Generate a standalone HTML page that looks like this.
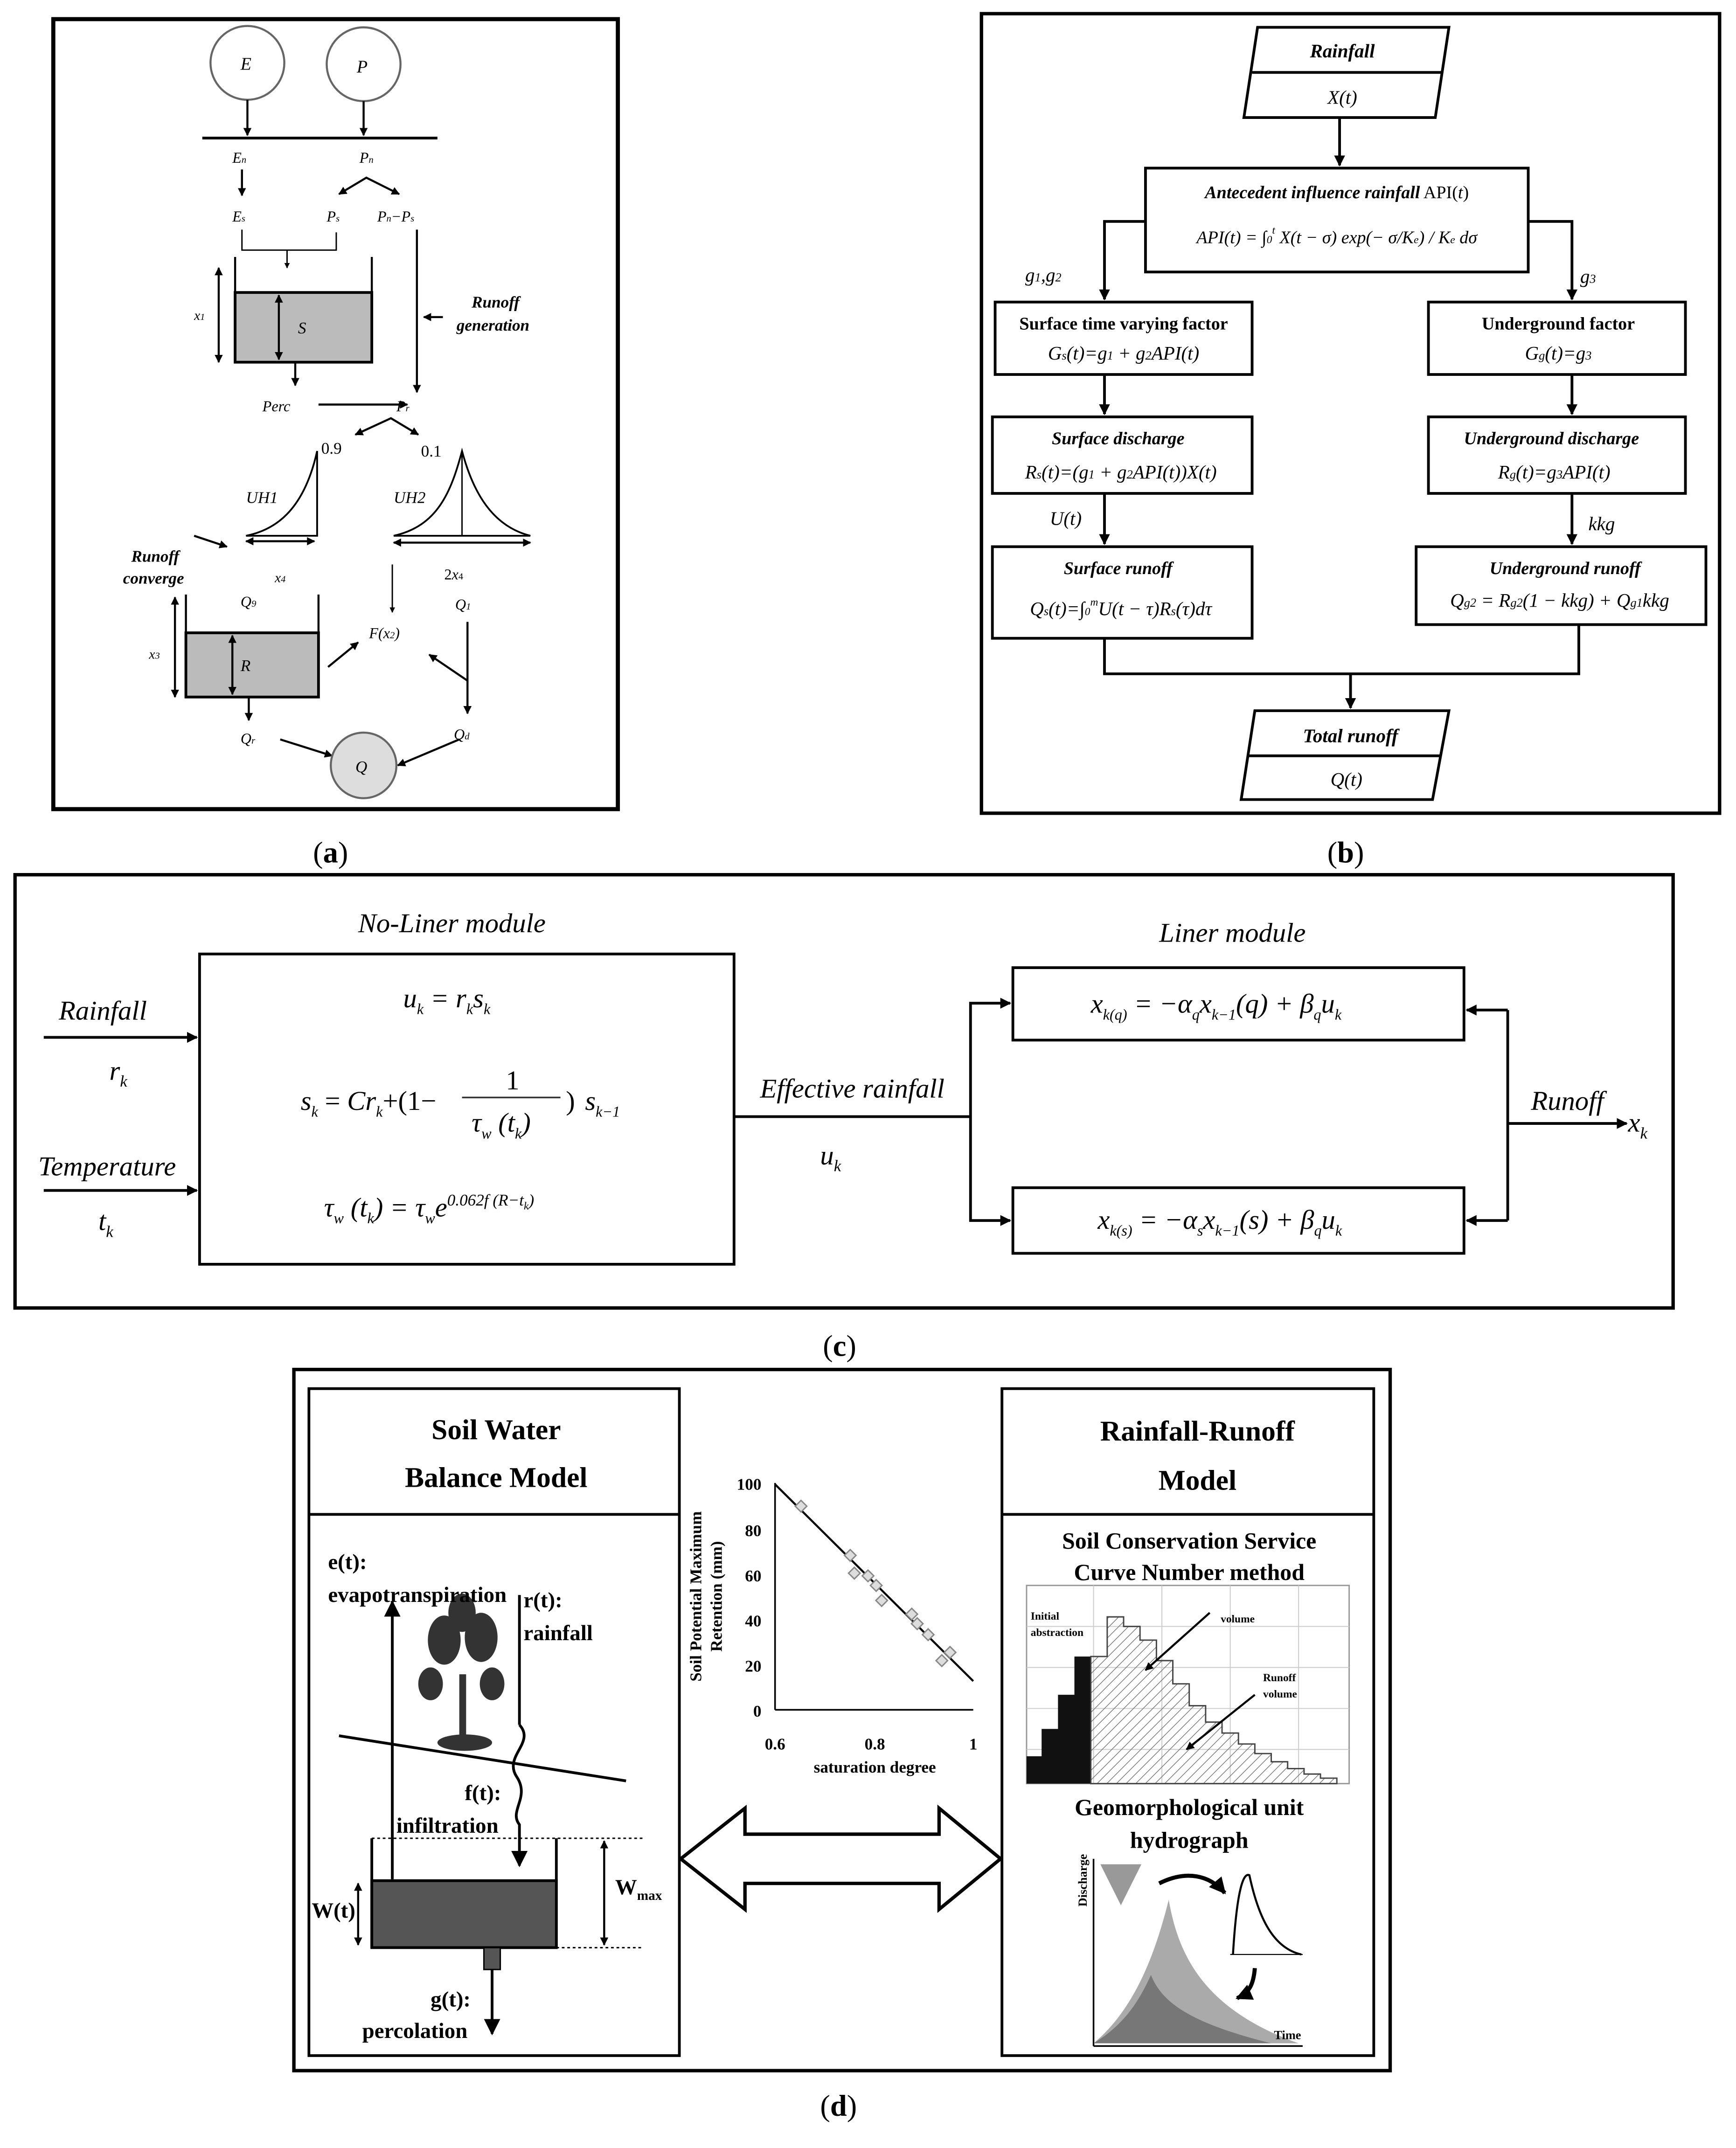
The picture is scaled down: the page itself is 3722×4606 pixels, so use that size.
<!DOCTYPE html>
<html><head><meta charset="utf-8"><style>
html,body{margin:0;padding:0;background:#fff}
svg{display:block}
text{font-family:"Liberation Serif",serif;fill:#000}
</style></head><body>
<svg width="3722" height="4606" viewBox="0 0 1270 1571.6" preserveAspectRatio="none" xmlns="http://www.w3.org/2000/svg">
<defs>
<marker id="ar" viewBox="0 0 10 10" refX="9" refY="5" markerWidth="6" markerHeight="6" orient="auto-start-reverse"><path d="M0,0 L10,5 L0,10 z" fill="#000"/></marker>
<marker id="ar2" viewBox="0 0 10 10" refX="9" refY="5" markerWidth="4" markerHeight="4" orient="auto-start-reverse"><path d="M0,0 L10,5 L0,10 z" fill="#000"/></marker>
<pattern id="hatch" width="5" height="5" patternUnits="userSpaceOnUse" patternTransform="rotate(45)"><line x1="0" y1="0" x2="0" y2="5" stroke="#777" stroke-width="1"/></pattern>
</defs>
<rect width="1270" height="1571.6" fill="#fff"/>

<!-- ===== (a) ===== -->
<rect x="39" y="14" width="413" height="578" fill="none" stroke="#000" stroke-width="3"/>
<g stroke="#000" stroke-width="1.5" fill="none">
<circle cx="181" cy="46" r="27" stroke="#666"/>
<circle cx="266" cy="47" r="27" stroke="#666"/>
<line x1="181" y1="73" x2="181" y2="99" marker-end="url(#ar2)"/>
<line x1="266" y1="74" x2="266" y2="99" marker-end="url(#ar2)"/>
<line x1="148" y1="101" x2="320" y2="101" stroke-width="2"/>
<line x1="177" y1="124" x2="177" y2="143" marker-end="url(#ar2)"/>
<polyline points="248,142 268,130 292,142" marker-start="url(#ar2)" marker-end="url(#ar2)"/>
<polyline points="177,168 177,183 246,183 246,170" stroke-width="1"/>
<line x1="210" y1="183" x2="210" y2="196" stroke-width="1" marker-end="url(#ar2)"/>
<line x1="305" y1="168" x2="305" y2="287" marker-end="url(#ar2)"/>
<line x1="324" y1="232" x2="310" y2="232" marker-end="url(#ar2)"/>
<line x1="172" y1="188" x2="172" y2="265"/>
<line x1="272" y1="188" x2="272" y2="265"/>
<line x1="160" y1="196" x2="160" y2="265" marker-start="url(#ar2)" marker-end="url(#ar2)"/>
<line x1="216" y1="265" x2="216" y2="282" marker-end="url(#ar2)"/>
<line x1="233" y1="296" x2="298" y2="296" marker-end="url(#ar2)"/>
<polyline points="260,318 286,306 306,318" marker-start="url(#ar2)" marker-end="url(#ar2)"/>
<line x1="180" y1="396" x2="230" y2="396" marker-start="url(#ar2)" marker-end="url(#ar2)"/>
<line x1="288" y1="397" x2="388" y2="397" marker-start="url(#ar2)" marker-end="url(#ar2)"/>
<line x1="142" y1="392" x2="166" y2="400" marker-end="url(#ar2)"/>
<line x1="287" y1="413" x2="287" y2="448" stroke-width="1" marker-end="url(#ar2)"/>
<line x1="136" y1="435" x2="136" y2="510"/>
<line x1="233" y1="435" x2="233" y2="510"/>
<line x1="128" y1="437" x2="128" y2="510" marker-start="url(#ar2)" marker-end="url(#ar2)"/>
<line x1="182" y1="510" x2="182" y2="527" marker-end="url(#ar2)"/>
<line x1="240" y1="488" x2="262" y2="470" marker-end="url(#ar2)"/>
<line x1="342" y1="455" x2="342" y2="522" marker-end="url(#ar2)"/>
<line x1="342" y1="498" x2="314" y2="479" marker-end="url(#ar2)"/>
<line x1="205" y1="541" x2="243" y2="553" marker-end="url(#ar2)"/>
<line x1="336" y1="541" x2="291" y2="560" marker-end="url(#ar2)"/>
</g>
<rect x="172" y="214" width="100" height="51" fill="#bbb" stroke="#000" stroke-width="2"/>
<line x1="204" y1="216" x2="204" y2="263" stroke="#000" stroke-width="1.5" marker-start="url(#ar2)" marker-end="url(#ar2)"/>
<rect x="136" y="463" width="97" height="47" fill="#bbb" stroke="#000" stroke-width="2"/>
<line x1="170" y1="465" x2="170" y2="508" stroke="#000" stroke-width="1.5" marker-start="url(#ar2)" marker-end="url(#ar2)"/>
<path d="M180,392 C200,388 222,375 232,330 L232,392 Z" fill="none" stroke="#000" stroke-width="1.3"/>
<line x1="180" y1="392" x2="232" y2="392" stroke="#000"/>
<path d="M288,392 C320,385 330,360 338,330 C346,360 360,385 388,392 Z" fill="none" stroke="#000" stroke-width="1.3"/>
<line x1="338" y1="330" x2="338" y2="392" stroke="#000"/>
<circle cx="266" cy="560" r="24" fill="#ddd" stroke="#666" stroke-width="1.5"/>
<g font-style="italic" font-size="13">
<text x="176" y="51">E</text><text x="261" y="53">P</text>
<text x="170" y="119" font-size="11">E<tspan font-size="7">n</tspan></text>
<text x="263" y="119" font-size="11">P<tspan font-size="7">n</tspan></text>
<text x="170" y="162" font-size="11">E<tspan font-size="7">s</tspan></text>
<text x="239" y="162" font-size="11">P<tspan font-size="7">s</tspan></text>
<text x="276" y="162" font-size="11">P<tspan font-size="7">n</tspan>−P<tspan font-size="7">s</tspan></text>
<text x="218" y="244" font-size="12">S</text>
<text x="142" y="234" font-size="10">x<tspan font-size="7">1</tspan></text>
<text x="192" y="301" font-size="11">Perc</text>
<text x="290" y="301" font-size="11">P<tspan font-size="7">r</tspan></text>
<text x="180" y="368" font-size="12">UH1</text>
<text x="288" y="368" font-size="12">UH2</text>
<text x="201" y="426" font-size="10">x<tspan font-size="7">4</tspan></text>
<text x="325" y="424" font-size="11" font-style="normal">2<tspan font-style="italic">x</tspan><tspan font-size="7">4</tspan></text>
<text x="176" y="444" font-size="11">Q<tspan font-size="7">9</tspan></text>
<text x="333" y="446" font-size="11">Q<tspan font-size="7">1</tspan></text>
<text x="270" y="467" font-size="11">F(x<tspan font-size="7">2</tspan>)</text>
<text x="109" y="482" font-size="10">x<tspan font-size="7">3</tspan></text>
<text x="176" y="491" font-size="12">R</text>
<text x="176" y="544" font-size="11">Q<tspan font-size="7">r</tspan></text>
<text x="332" y="541" font-size="11">Q<tspan font-size="7">d</tspan></text>
<text x="260" y="565" font-size="12">Q</text>
</g>
<text x="235" y="332" font-size="12">0.9</text>
<text x="308" y="334" font-size="12">0.1</text>
<g font-style="italic" font-weight="bold" font-size="12">
<text x="345" y="225">Runoff</text><text x="334" y="242">generation</text>
<text x="96" y="411">Runoff</text><text x="90" y="427">converge</text>
</g>
<text x="229" y="631" font-size="22">(<tspan font-weight="bold">a</tspan>)</text>

<!-- ===== (b) ===== -->
<rect x="718" y="10" width="540" height="585" fill="none" stroke="#000" stroke-width="2.5"/>
<g stroke="#000" stroke-width="2" fill="none">
<polygon points="920,20 1060,20 1050,86 910,86"/>
<line x1="916" y1="53" x2="1055" y2="53"/>
<polygon points="918,520 1060,520 1048,585 908,585"/>
<line x1="913" y1="553" x2="1054" y2="553"/>
<rect x="838" y="123" width="280" height="76"/>
<rect x="728" y="221" width="188" height="53"/>
<rect x="1045" y="221" width="188" height="53"/>
<rect x="726" y="305" width="190" height="56"/>
<rect x="1045" y="305" width="188" height="56"/>
<rect x="726" y="400" width="190" height="67"/>
<rect x="1036" y="400" width="212" height="57"/>
<line x1="980" y1="86" x2="980" y2="121" marker-end="url(#ar2)"/>
<polyline points="838,162 808,162 808,219" marker-end="url(#ar2)"/>
<polyline points="1118,162 1150,162 1150,219" marker-end="url(#ar2)"/>
<line x1="808" y1="274" x2="808" y2="303" marker-end="url(#ar2)"/>
<line x1="1150" y1="274" x2="1150" y2="303" marker-end="url(#ar2)"/>
<line x1="808" y1="361" x2="808" y2="398" marker-end="url(#ar2)"/>
<line x1="1150" y1="361" x2="1150" y2="398" marker-end="url(#ar2)"/>
<polyline points="808,467 808,493 1155,493 1155,457"/>
<line x1="988" y1="493" x2="988" y2="518" marker-end="url(#ar2)"/>
</g>
<g font-size="14" text-anchor="middle">
<text x="982" y="42" font-style="italic" font-weight="bold">Rainfall</text>
<text x="982" y="76" font-style="italic">X(t)</text>
<text x="978" y="145" font-size="13"><tspan font-style="italic" font-weight="bold">Antecedent influence rainfall</tspan> API(<tspan font-style="italic">t</tspan>)</text>
<text x="978" y="178" font-style="italic" font-size="13">API(t) = ∫<tspan font-size="8">0</tspan><tspan font-size="8" dy="-7">t</tspan><tspan dy="7"> X(t − σ) exp(− σ/K</tspan><tspan font-size="8">e</tspan>) / K<tspan font-size="8">e</tspan> dσ</text>
<text x="822" y="241" font-weight="bold" font-size="13">Surface time varying factor</text>
<text x="822" y="263" font-style="italic">G<tspan font-size="9">s</tspan>(t)=g<tspan font-size="9">1</tspan> + g<tspan font-size="9">2</tspan>API(t)</text>
<text x="1140" y="241" font-weight="bold" font-size="13">Underground factor</text>
<text x="1140" y="263" font-style="italic">G<tspan font-size="9">g</tspan>(t)=g<tspan font-size="9">3</tspan></text>
<text x="818" y="325" font-style="italic" font-weight="bold" font-size="13">Surface discharge</text>
<text x="820" y="350" font-style="italic">R<tspan font-size="9">s</tspan>(t)=(g<tspan font-size="9">1</tspan> + g<tspan font-size="9">2</tspan>API(t))X(t)</text>
<text x="1135" y="325" font-style="italic" font-weight="bold" font-size="13">Underground discharge</text>
<text x="1137" y="350" font-style="italic">R<tspan font-size="9">g</tspan>(t)=g<tspan font-size="9">3</tspan>API(t)</text>
<text x="818" y="420" font-style="italic" font-weight="bold" font-size="13">Surface runoff</text>
<text x="820" y="450" font-style="italic">Q<tspan font-size="9">s</tspan>(t)=∫<tspan font-size="8">0</tspan><tspan font-size="8" dy="-7">m</tspan><tspan dy="7">U(t − τ)R</tspan><tspan font-size="9">s</tspan>(τ)dτ</text>
<text x="1145" y="420" font-style="italic" font-weight="bold" font-size="13">Underground runoff</text>
<text x="1141" y="444" font-style="italic">Q<tspan font-size="9">g2</tspan> = R<tspan font-size="9">g2</tspan>(1 − kkg) + Q<tspan font-size="9">g1</tspan>kkg</text>
<text x="988" y="543" font-style="italic" font-weight="bold">Total runoff</text>
<text x="985" y="575" font-style="italic">Q(t)</text>
</g>
<g font-style="italic" font-size="14">
<text x="750" y="206">g<tspan font-size="9">1</tspan>,g<tspan font-size="9">2</tspan></text>
<text x="1156" y="207">g<tspan font-size="9">3</tspan></text>
<text x="768" y="384">U(t)</text>
<text x="1162" y="388">kkg</text>
</g>
<text x="971" y="631" font-size="22">(<tspan font-weight="bold">b</tspan>)</text>

<!-- ===== (c) ===== -->
<rect x="11" y="640" width="1213" height="317" fill="none" stroke="#000" stroke-width="2.5"/>
<g stroke="#000" stroke-width="2" fill="none">
<rect x="146" y="698" width="391" height="227"/>
<rect x="741" y="708" width="330" height="53"/>
<rect x="741" y="869" width="330" height="48"/>
<line x1="32" y1="759" x2="144" y2="759" marker-end="url(#ar2)"/>
<line x1="32" y1="871" x2="144" y2="871" marker-end="url(#ar2)"/>
<line x1="537" y1="817" x2="710" y2="817"/>
<polyline points="710,817 710,734 739,734" marker-end="url(#ar2)"/>
<polyline points="710,817 710,893 739,893" marker-end="url(#ar2)"/>
<line x1="1103" y1="822" x2="1190" y2="822" marker-end="url(#ar2)"/>
<polyline points="1103,739 1103,893"/>
<line x1="1103" y1="739" x2="1073" y2="739" marker-end="url(#ar2)"/>
<line x1="1103" y1="893" x2="1073" y2="893" marker-end="url(#ar2)"/>
</g>
<g font-style="italic" font-size="20" fill="#333">
<text x="262" y="682">No-Liner module</text>
<text x="848" y="689">Liner module</text>
<text x="43" y="746">Rainfall</text>
<text x="80" y="790">r<tspan font-size="12" dy="5">k</tspan></text>
<text x="28" y="860">Temperature</text>
<text x="72" y="900">t<tspan font-size="12" dy="5">k</tspan></text>
<text x="556" y="803">Effective rainfall</text>
<text x="600" y="852">u<tspan font-size="12" dy="5">k</tspan></text>
<text x="1120" y="812">Runoff</text>
<text x="1191" y="828">x<tspan font-size="12" dy="5">k</tspan></text>
<text x="295" y="737">u<tspan font-size="11" dy="5">k</tspan><tspan dy="-5"> = r</tspan><tspan font-size="11" dy="5">k</tspan><tspan dy="-5">s</tspan><tspan font-size="11" dy="5">k</tspan></text>
<text x="220" y="812">s<tspan font-size="11" dy="5">k</tspan><tspan dy="-5" font-style="normal"> = </tspan>Cr<tspan font-size="11" dy="5">k</tspan><tspan dy="-5" font-style="normal">+(1− </tspan></text>
<text x="370" y="797" font-style="normal">1</text>
<line x1="338" y1="803" x2="410" y2="803" stroke="#333" stroke-width="1.2"/>
<text x="345" y="828">τ<tspan font-size="11" dy="5">w</tspan><tspan dy="-5"> (t</tspan><tspan font-size="11" dy="5">k</tspan><tspan dy="-5">)</tspan></text>
<text x="414" y="812" font-style="normal">)</text>
<text x="428" y="812">s<tspan font-size="11" dy="5">k−1</tspan></text>
<text x="237" y="890">τ<tspan font-size="11" dy="5">w</tspan><tspan dy="-5"> (t</tspan><tspan font-size="11" dy="5">k</tspan><tspan dy="-5">) = τ</tspan><tspan font-size="11" dy="5">w</tspan><tspan dy="-5">e</tspan><tspan font-size="12" dy="-8">0.062f (R−t</tspan><tspan font-size="8" dy="3">k</tspan><tspan font-size="12" dy="-3">)</tspan></text>
<text x="798" y="741">x<tspan font-size="11" dy="5">k(q)</tspan><tspan dy="-5"> = −α</tspan><tspan font-size="11" dy="5">q</tspan><tspan dy="-5">x</tspan><tspan font-size="11" dy="5">k−1</tspan><tspan dy="-5">(q) + β</tspan><tspan font-size="11" dy="5">q</tspan><tspan dy="-5">u</tspan><tspan font-size="11" dy="5">k</tspan></text>
<text x="803" y="899">x<tspan font-size="11" dy="5">k(s)</tspan><tspan dy="-5"> = −α</tspan><tspan font-size="11" dy="5">s</tspan><tspan dy="-5">x</tspan><tspan font-size="11" dy="5">k−1</tspan><tspan dy="-5">(s) + β</tspan><tspan font-size="11" dy="5">q</tspan><tspan dy="-5">u</tspan><tspan font-size="11" dy="5">k</tspan></text>
</g>
<text x="602" y="992" font-size="22">(<tspan font-weight="bold">c</tspan>)</text>

<!-- ===== (d) ===== -->
<rect x="215" y="1002" width="802" height="513" fill="none" stroke="#000" stroke-width="2.5"/>
<g stroke="#000" stroke-width="2" fill="none">
<rect x="226" y="1016" width="271" height="488"/>
<line x1="226" y1="1108" x2="497" y2="1108"/>
<rect x="733" y="1016" width="272" height="488"/>
<line x1="733" y1="1108" x2="1005" y2="1108"/>
</g>
<g font-weight="bold" font-size="21" text-anchor="middle">
<text x="363" y="1053">Soil Water</text><text x="363" y="1088">Balance Model</text>
<text x="876" y="1054">Rainfall-Runoff</text><text x="876" y="1090">Model</text>
</g>
<!-- soil water schematic -->
<g stroke="#000" stroke-width="2" fill="none">
<line x1="287" y1="1375" x2="287" y2="1172" marker-end="url(#ar)"/>
<line x1="380" y1="1167" x2="380" y2="1262"/>
<path d="M380,1262 C392,1275 368,1285 378,1300 C388,1315 372,1325 380,1335 L380,1365" marker-end="url(#ar)"/>
<line x1="248" y1="1270" x2="458" y2="1303"/>
<line x1="272" y1="1345" x2="272" y2="1425"/>
<line x1="407" y1="1345" x2="407" y2="1425"/>
<line x1="272" y1="1345" x2="470" y2="1345" stroke-dasharray="2,2" stroke-width="1"/>
<line x1="407" y1="1425" x2="470" y2="1425" stroke-dasharray="2,2" stroke-width="1"/>
<line x1="442" y1="1347" x2="442" y2="1423" stroke-width="1.5" marker-start="url(#ar2)" marker-end="url(#ar2)"/>
<line x1="262" y1="1378" x2="262" y2="1423" stroke-width="1.5" marker-start="url(#ar2)" marker-end="url(#ar2)"/>
<line x1="360" y1="1440" x2="360" y2="1488" marker-end="url(#ar)"/>
</g>
<rect x="272" y="1376" width="135" height="49" fill="#555" stroke="#000" stroke-width="2"/>
<rect x="354" y="1425" width="12" height="16" fill="#555" stroke="#000"/>
<g fill="#333">
<rect x="336" y="1225" width="5" height="55"/>
<ellipse cx="325" cy="1200" rx="12" ry="18"/><ellipse cx="352" cy="1198" rx="12" ry="18"/>
<ellipse cx="338" cy="1180" rx="10" ry="14"/><ellipse cx="315" cy="1232" rx="9" ry="12"/>
<ellipse cx="360" cy="1232" rx="9" ry="12"/><ellipse cx="340" cy="1275" rx="20" ry="6"/>
</g>
<g font-weight="bold" font-size="16">
<text x="240" y="1148">e(t):</text><text x="240" y="1172">evapotranspiration</text>
<text x="383" y="1176">r(t):</text><text x="383" y="1200">rainfall</text>
<text x="340" y="1317">f(t):</text><text x="290" y="1341">infiltration</text>
<text x="228" y="1403">W(t)</text>
<text x="450" y="1386">W<tspan font-size="10" dy="4">max</tspan></text>
<text x="315" y="1468">g(t):</text><text x="265" y="1491">percolation</text>
</g>
<!-- double arrow -->
<polygon points="498,1360 545,1323 545,1342 687,1342 687,1323 732,1360 687,1397 687,1378 545,1378 545,1397" fill="#fff" stroke="#000" stroke-width="2.5"/>
<!-- scatter plot -->
<g stroke="#000" stroke-width="1.2" fill="none">
<line x1="567" y1="1085" x2="567" y2="1251"/>
<line x1="567" y1="1251" x2="712" y2="1251"/>
<line x1="567" y1="1086" x2="712" y2="1230" stroke-width="1.5"/>
</g>
<g font-weight="bold" font-size="12" text-anchor="end">
<text x="557" y="1090">100</text><text x="557" y="1124">80</text><text x="557" y="1157">60</text>
<text x="557" y="1190">40</text><text x="557" y="1223">20</text><text x="557" y="1256">0</text>
</g>
<g font-weight="bold" font-size="12" text-anchor="middle">
<text x="567" y="1280">0.6</text><text x="640" y="1280">0.8</text><text x="712" y="1280">1</text>
<text x="640" y="1297">saturation degree</text>
</g>
<text transform="translate(513,1168) rotate(-90)" font-weight="bold" font-size="12" text-anchor="middle">Soil Potential Maximum</text>
<text transform="translate(528,1168) rotate(-90)" font-weight="bold" font-size="12" text-anchor="middle">Retention (mm)</text>
<g fill="#ddd" stroke="#888">
<rect x="583" y="1099" width="6" height="6" transform="rotate(45 586 1102)"/>
<rect x="619" y="1135" width="6" height="6" transform="rotate(45 622 1138)"/>
<rect x="622" y="1148" width="6" height="6" transform="rotate(45 625 1151)"/>
<rect x="632" y="1150" width="6" height="6" transform="rotate(45 635 1153)"/>
<rect x="638" y="1157" width="6" height="6" transform="rotate(45 641 1160)"/>
<rect x="642" y="1168" width="6" height="6" transform="rotate(45 645 1171)"/>
<rect x="664" y="1178" width="6" height="6" transform="rotate(45 667 1181)"/>
<rect x="668" y="1185" width="6" height="6" transform="rotate(45 671 1188)"/>
<rect x="676" y="1193" width="6" height="6" transform="rotate(45 679 1196)"/>
<rect x="686" y="1212" width="6" height="6" transform="rotate(45 689 1215)"/>
<rect x="692" y="1206" width="6" height="6" transform="rotate(45 695 1209)"/>
</g>
<!-- right panel -->
<g font-weight="bold" font-size="17" text-anchor="middle">
<text x="870" y="1133">Soil Conservation Service</text>
<text x="870" y="1156">Curve Number method</text>
<text x="870" y="1328">Geomorphological unit</text>
<text x="870" y="1352">hydrograph</text>
</g>
<rect x="751" y="1160" width="236" height="145" fill="#fff" stroke="#999"/>
<g stroke="#ccc" stroke-width="0.7">
<line x1="751" y1="1190" x2="987" y2="1190"/><line x1="751" y1="1220" x2="987" y2="1220"/><line x1="751" y1="1250" x2="987" y2="1250"/><line x1="751" y1="1280" x2="987" y2="1280"/>
<line x1="800" y1="1160" x2="800" y2="1305"/><line x1="850" y1="1160" x2="850" y2="1305"/><line x1="900" y1="1160" x2="900" y2="1305"/><line x1="950" y1="1160" x2="950" y2="1305"/>
</g>
<path d="M751,1305 L751,1285 L762,1285 L762,1265 L774,1265 L774,1240 L786,1240 L786,1212 L798,1212 L798,1305 Z" fill="#111"/>
<path d="M798,1305 L798,1212 L810,1212 L810,1183 L822,1183 L822,1190 L834,1190 L834,1200 L846,1200 L846,1215 L858,1215 L858,1232 L870,1232 L870,1248 L882,1248 L882,1260 L894,1260 L894,1268 L906,1268 L906,1276 L918,1276 L918,1283 L930,1283 L930,1289 L942,1289 L942,1294 L954,1294 L954,1298 L966,1298 L966,1301 L978,1301 L978,1305 Z" fill="url(#hatch)" stroke="#444"/>
<g font-size="8" font-weight="bold"><text x="754" y="1185">Initial</text><text x="754" y="1197">abstraction</text><text x="893" y="1187">volume</text><text x="924" y="1230">Runoff</text><text x="924" y="1242">volume</text></g>
<g stroke="#000" stroke-width="1.5" fill="none">
<line x1="885" y1="1180" x2="838" y2="1222" marker-end="url(#ar2)"/>
<line x1="918" y1="1240" x2="868" y2="1280" marker-end="url(#ar2)"/>
</g>
<!-- hydrograph -->
<g stroke="#000" stroke-width="1.2" fill="none">
<line x1="800" y1="1360" x2="800" y2="1497"/>
<line x1="800" y1="1497" x2="953" y2="1497"/>
</g>
<path d="M800,1495 C830,1470 845,1430 855,1390 C862,1430 880,1470 950,1495 Z" fill="#aaa"/>
<path d="M800,1495 C825,1480 835,1460 842,1445 C850,1465 870,1480 930,1495 Z" fill="#777"/>
<path d="M805,1364 L835,1364 L820,1394 Z" fill="#999"/>
<path d="M902,1430 C905,1380 910,1370 914,1372 C920,1400 930,1425 952,1430" fill="none" stroke="#000" stroke-width="1.5"/>
<line x1="900" y1="1430" x2="953" y2="1430" stroke="#000" stroke-width="0.8"/>
<path d="M848,1378 C868,1368 885,1372 896,1385" fill="none" stroke="#000" stroke-width="3" marker-end="url(#ar2)"/>
<path d="M918,1440 C917,1452 914,1458 905,1462" fill="none" stroke="#000" stroke-width="3" marker-end="url(#ar2)"/>
<text transform="translate(795,1395) rotate(-90)" font-family="Liberation Sans" font-size="9" font-weight="bold">Discharge</text>
<text x="932" y="1492" font-family="Liberation Sans" font-size="9" font-weight="bold">Time</text>
<text x="600" y="1548" font-size="22">(<tspan font-weight="bold">d</tspan>)</text>
</svg>
</body></html>
